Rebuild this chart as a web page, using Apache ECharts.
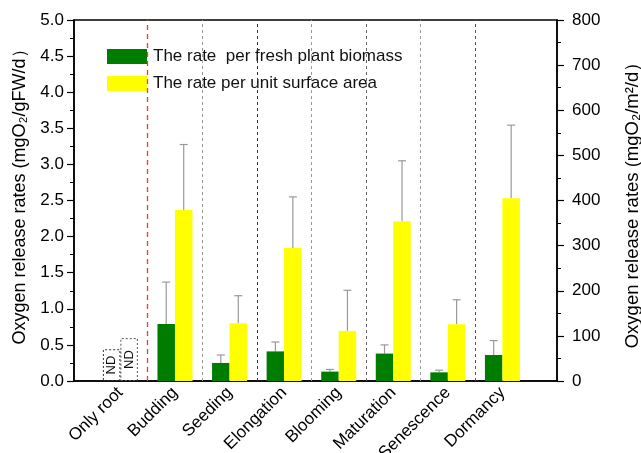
<!DOCTYPE html>
<html><head><meta charset="utf-8">
<script src="https://cdn.jsdelivr.net/npm/echarts@6/dist/echarts.min.js"></script>
<style>html,body{margin:0;padding:0;background:#fff}#c{width:641px;height:453px}</style>
</head><body><div id="c"></div>
<script>
// ---- data ----
const categories = ['Only root','Budding','Seeding','Elongation','Blooming','Maturation','Senescence','Dormancy'];
const positions = [1,2,3,4,5,6,7,8];
const biomassRate = [null, 0.79, 0.25, 0.41, 0.13, 0.38, 0.12, 0.36];
const biomassErrTop = [null, 1.37, 0.36, 0.54, 0.16, 0.50, 0.15, 0.56];
const surfaceRate = [null, 379, 128, 295, 111, 354, 126, 405];
const surfaceErrTop = [null, 524, 189, 408, 201, 488, 180, 567];
const ndBiomass = 0.44;   // height of the "ND" placeholder box (left axis)
const ndSurface = 95;     // height of the "ND" placeholder box (right axis)
const separators = [1.5, 2.5, 3.5, 4.5, 5.5, 6.5, 7.5];
const leftTicks = [0,0.5,1,1.5,2,2.5,3,3.5,4,4.5,5];
const rightTicks = [0,100,200,300,400,500,600,700,800];
const legendNames = ['The rate  per fresh plant biomass', 'The rate per unit surface area'];

// ---- styles ----
const FONT = 'Liberation Sans, Arial, sans-serif';
const BW = 17.5;
const sepColors = ['#ff3333','#999','#333','#999','#666','#999','#555'];

const ndItem = (v, border) => ({
  value: [1, v],
  itemStyle: {color: 'rgba(0,0,0,0)', borderColor: border, borderType: [2,2], borderWidth: 1},
  label: {show: true, formatter: 'ND', rotate: 90, position: 'inside', color: '#111', fontFamily: FONT, fontSize: 13}
});

const greenData = positions.map((p,i) => i === 0 ? ndItem(ndBiomass, '#333') : [p, biomassRate[i]]);
const yellowData = positions.map((p,i) => i === 0 ? ndItem(ndSurface, '#555') : [p, surfaceRate[i]]);

function errSeries(vals, tops, yIdx, off) {
  return {
    type: 'custom', yAxisIndex: yIdx, silent: true, z: 1,
    data: positions.map((p,i) => [p, vals[i], tops[i]]).filter(d => d[1] != null),
    renderItem: (params, api) => {
      const lo = api.coord([api.value(0), api.value(1)]);
      const hi = api.coord([api.value(0), api.value(2)]);
      const x = lo[0] + off;
      const st = {stroke: '#999', lineWidth: 1.2};
      return {type: 'group', children: [
        {type: 'line', shape: {x1: x, y1: lo[1], x2: x, y2: hi[1]}, style: st},
        {type: 'line', shape: {x1: x - 4, y1: hi[1], x2: x + 4, y2: hi[1]}, style: st}
      ]};
    }
  };
}

const axisLbl = {color: '#000', fontFamily: FONT, fontSize: 17};
const nameStyle = {color: '#000', fontFamily: FONT, fontSize: 18};
const chart = echarts.init(document.getElementById('c'), null, {renderer: 'canvas'});
chart.setOption({
  animation: false,
  backgroundColor: '#fff',
  grid: {left: 74, right: 84, top: 20, bottom: 72, containLabel: false, outerBoundsMode: 'none',
         show: true, borderColor: '#000', borderWidth: 1.5, backgroundColor: 'transparent'},
  legend: {
    orient: 'vertical', left: 107, top: 48, padding: 0, itemWidth: 40, itemHeight: 15, itemGap: 10,
    icon: 'rect', data: legendNames, selectedMode: false,
    textStyle: {color: '#111', fontFamily: FONT, fontSize: 17, padding: [0,0,0,1]}
  },
  xAxis: {
    type: 'value', min: 0.15, max: 9,
    axisLine: {show: true, lineStyle: {color: '#000', width: 1.5}},
    axisTick: {show: false}, splitLine: {show: false},
    axisLabel: {customValues: positions, rotate: 45, margin: 9, ...axisLbl,
      formatter: v => categories[Math.round(v) - 1] || ''}
  },
  yAxis: [
    {type: 'value', min: 0, max: 5, interval: 0.5, position: 'left',
     name: 'Oxygen release rates (mgO\u2082/gFW/d\uFF09', nameLocation: 'middle', nameGap: 45, nameRotate: 90,
     nameTextStyle: {...nameStyle, padding: [0,0,0,16]},
     axisLine: {show: true, lineStyle: {color: '#000', width: 1.5}},
     axisTick: {show: true, inside: false, length: 7, lineStyle: {color: '#000', width: 1.2}},
     minorTick: {show: true, splitNumber: 2, length: 4, lineStyle: {color: '#000', width: 1}},
     splitLine: {show: false},
     axisLabel: {...axisLbl, margin: 10, customValues: leftTicks, formatter: v => v.toFixed(1)}},
    {type: 'value', min: 0, max: 800, interval: 100, position: 'right',
     name: 'Oxygen release rates (mgO\u2082/m\u00B2/d\uFF09', nameLocation: 'middle', nameGap: 66, nameRotate: 90,
     nameTextStyle: {...nameStyle, fontSize: 18.5},
     axisLine: {show: true, lineStyle: {color: '#000', width: 1.5}},
     axisTick: {show: true, inside: false, length: 7, lineStyle: {color: '#000', width: 1.2}},
     minorTick: {show: true, splitNumber: 2, length: 4, lineStyle: {color: '#000', width: 1}},
     splitLine: {show: false},
     axisLabel: {...axisLbl, margin: 15, customValues: rightTicks}}
  ],
  series: [
    {name: legendNames[0], type: 'bar', yAxisIndex: 0, barWidth: BW, barGap: '0%',
     itemStyle: {color: '#007d00'}, data: greenData, z: 2},
    {name: legendNames[1], type: 'bar', yAxisIndex: 1, barWidth: BW, barGap: '0%',
     itemStyle: {color: '#ffff00'}, data: yellowData, z: 2},
    errSeries(biomassRate, biomassErrTop, 0, -BW / 2),
    errSeries(surfaceRate, surfaceErrTop, 1, BW / 2),
    {type: 'line', data: [], silent: true, z: 1, color: '#ff3333',
     markLine: {silent: true, symbol: 'none', label: {show: false},
       data: separators.map((s,i) => ({xAxis: s, lineStyle: {color: sepColors[i], type: i === 0 ? [5,4] : [3,3], width: i === 0 ? 1.3 : 1}}))}}
  ]
});
</script></body></html>
